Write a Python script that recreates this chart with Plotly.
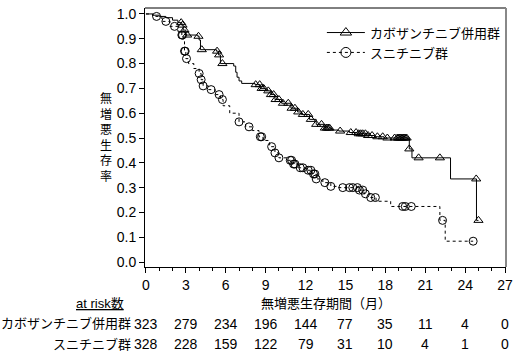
import numpy as np
import plotly.graph_objects as go

# ---- data ----
cabo_name = "カボザンチニブ併用群"
sun_name = "スニチニブ群"

cabo_t = [0, 0.5, 1.0, 1.5, 2.0, 2.4, 2.7, 2.8, 3.0, 3.9, 4.0, 4.1, 5.3, 5.45, 5.6, 6.6, 6.75,
          6.85, 7.0, 7.2, 8.2, 8.6, 9.0, 9.4, 9.7, 10.2, 10.9, 11.4, 11.7, 12.3, 12.8, 13.4,
          14.0, 14.5, 15.3, 15.9, 16.7, 17.2, 17.9, 19.8, 20.0, 22.9, 24.85, 25.0]
cabo_s = [1.0, 0.995, 0.99, 0.985, 0.975, 0.965, 0.955, 0.935, 0.915, 0.91, 0.895, 0.856, 0.85,
          0.835, 0.80, 0.79, 0.765, 0.745, 0.73, 0.72, 0.715, 0.70, 0.69, 0.675, 0.655, 0.64,
          0.62, 0.605, 0.595, 0.575, 0.555, 0.54, 0.532, 0.528, 0.522, 0.517, 0.51, 0.505, 0.50,
          0.456, 0.42, 0.335, 0.168, 0.168]
cabo_cens = [2.65, 2.75, 2.9, 3.1, 3.95, 4.2, 5.35, 5.5, 5.75, 8.25, 8.55, 8.7, 8.85, 9.2, 9.4,
             9.6, 9.75, 10.0, 10.3, 10.7, 10.95, 11.2, 11.45, 11.8, 12.2, 12.4, 12.8, 13.2,
             13.45, 13.6, 13.7, 13.8, 14.6, 15.4, 15.8, 16.0, 16.15, 16.3, 16.5, 16.7, 17.0,
             17.4, 17.8, 18.15, 18.7, 18.9, 19.0, 19.1, 19.2, 19.3, 19.4, 19.5, 19.6, 19.8,
             20.5, 22.1, 24.83, 25.0]

sun_t = [0, 0.5, 1.2, 1.8, 2.4, 2.7, 2.8, 2.9, 3.0, 3.2, 3.6, 4.0, 4.15, 4.3, 4.7, 5.2, 5.6,
         5.8, 6.3, 7.0, 7.5, 8.0, 8.5, 8.8, 9.3, 9.7, 10.0, 10.6, 11.0, 11.5, 12.0, 12.5, 12.8,
         13.3, 13.9, 14.5, 16.0, 16.4, 16.9, 17.3, 18.4, 22.1, 22.5, 24.6]
sun_s = [1.0, 0.99, 0.97, 0.95, 0.93, 0.915, 0.895, 0.85, 0.82, 0.80, 0.78, 0.76, 0.735, 0.71,
         0.695, 0.675, 0.655, 0.63, 0.60, 0.565, 0.545, 0.53, 0.505, 0.49, 0.465, 0.44, 0.42,
         0.41, 0.395, 0.38, 0.37, 0.355, 0.335, 0.32, 0.305, 0.30, 0.29, 0.275, 0.26, 0.245,
         0.224, 0.168, 0.084, 0.084]
sun_cens = [0.8, 1.5, 2.15, 2.7, 2.75, 2.9, 2.95, 3.05, 4.0, 4.15, 4.3, 4.9, 5.5, 5.75, 7.0,
            7.75, 8.6, 8.7, 9.45, 9.7, 10.0, 10.85, 10.95, 11.1, 11.2, 11.6, 11.8, 12.2, 12.4,
            12.6, 12.7, 12.8, 13.45, 13.9, 14.8, 15.3, 15.55, 15.9, 16.05, 16.3, 16.5, 16.9,
            17.25, 19.3, 19.5, 19.95, 22.3, 24.6]

risk_times = [0, 3, 6, 9, 12, 15, 18, 21, 24, 27]
cabo_risk = [323, 279, 234, 196, 144, 77, 35, 11, 4, 0]
sun_risk = [328, 228, 159, 122, 79, 31, 10, 4, 1, 0]

x_ticks = [0, 3, 6, 9, 12, 15, 18, 21, 24, 27]
y_ticks = [round(0.1 * i, 1) for i in range(11)]

x_title = "無増悪生存期間（月）"
y_title = "無増悪生存率"
risk_title = "at risk数"


def step_lookup(ts, ss, q):
    ts = np.asarray(ts)
    idx = np.searchsorted(ts, np.asarray(q), side="right") - 1
    return np.asarray(ss)[idx]


FONT = "Liberation Sans, Arial, Noto Sans CJK JP, sans-serif"
fig = go.Figure()

# step curves
fig.add_trace(go.Scatter(x=cabo_t, y=cabo_s, mode="lines", line=dict(color="black", width=1, shape="hv"),
                         showlegend=False, hoverinfo="skip"))
fig.add_trace(go.Scatter(x=sun_t, y=sun_s, mode="lines", line=dict(color="black", width=1, shape="hv", dash="dot"),
                         showlegend=False, hoverinfo="skip"))
# censor marks
fig.add_trace(go.Scatter(x=cabo_cens, y=step_lookup(cabo_t, cabo_s, cabo_cens), mode="markers",
                         marker=dict(symbol="triangle-up-open", size=8, color="black", line=dict(width=1)),
                         showlegend=False))
fig.add_trace(go.Scatter(x=sun_cens, y=step_lookup(sun_t, sun_s, sun_cens), mode="markers",
                         marker=dict(symbol="circle-open", size=8, color="black", line=dict(width=1)),
                         showlegend=False))
# legend entries
fig.add_trace(go.Scatter(x=[None], y=[None], mode="lines+markers", name=cabo_name,
                         line=dict(color="black", width=1),
                         marker=dict(symbol="triangle-up-open", size=10, color="black", line=dict(width=1))))
fig.add_trace(go.Scatter(x=[None], y=[None], mode="lines+markers", name=sun_name,
                         line=dict(color="black", width=1, dash="dot"),
                         marker=dict(symbol="circle-open", size=10, color="black", line=dict(width=1))))

annotations = []
# y title stacked
annotations.append(dict(text="<br>".join(list(y_title)), xref="paper", yref="paper",
                        x=(106 - 145) / 365, y=(267 - 136) / 261, xanchor="center", yanchor="middle",
                        showarrow=False, font=dict(family=FONT, size=12, color="black")))
# x title
annotations.append(dict(text=x_title, xref="paper", yref="paper", x=0.5, y=(267 - 304) / 261,
                        xanchor="center", yanchor="middle", showarrow=False,
                        font=dict(family=FONT, size=13, color="black")))
# at risk title
annotations.append(dict(text="<u>" + risk_title + "</u>", xref="paper", yref="paper",
                        x=(100 - 145) / 365, y=(267 - 304) / 261, xanchor="center", yanchor="middle",
                        showarrow=False, font=dict(family=FONT, size=13, color="black")))
# row labels and numbers
for lbl, vals, py in [(cabo_name, cabo_risk, 324), (sun_name, sun_risk, 345)]:
    yp = (267 - py) / 261
    annotations.append(dict(text=lbl, xref="paper", yref="paper", x=(133 - 145) / 365, y=yp,
                            xanchor="right", yanchor="middle", showarrow=False,
                            font=dict(family=FONT, size=13, color="black")))
    for t, v in zip(risk_times, vals):
        annotations.append(dict(text=str(v), xref="x", yref="paper", x=t, y=yp,
                                xanchor="center", yanchor="middle", showarrow=False,
                                font=dict(family=FONT, size=14, color="black")))

fig.update_layout(
    width=519, height=359,
    margin=dict(l=145, r=9, t=6, b=92),
    plot_bgcolor="white", paper_bgcolor="white",
    font=dict(family=FONT, size=13, color="black"),
    showlegend=True,
    legend=dict(x=0.49, y=0.963, xanchor="left", yanchor="top", bgcolor="rgba(0,0,0,0)",
                itemwidth=38,
                font=dict(family=FONT, size=13, color="black"), tracegroupgap=0),
    annotations=annotations,
    shapes=[
        dict(type="line", xref="paper", yref="paper", x0=0, x1=1, y0=1, y1=1,
             line=dict(color="black", width=1)),
        dict(type="line", xref="paper", yref="paper", x0=1, x1=1, y0=0, y1=1,
             line=dict(color="#888888", width=2)),
    ],
)
fig.update_xaxes(range=[-0.07, 27.07], tickmode="array", tickvals=x_ticks,
                 ticktext=[str(v) for v in x_ticks],
                 showline=True, linecolor="black", linewidth=1, ticks="outside", ticklen=5,
                 tickcolor="black", showgrid=False, zeroline=False,
                 minor=dict(dtick=1, ticks="outside", ticklen=3, tickcolor="black", showgrid=False),
                 tickfont=dict(family=FONT, size=14, color="black"))
fig.update_yaxes(range=[-0.02, 1.024], tickmode="array", tickvals=y_ticks,
                 ticktext=[f"{v:.1f}" for v in y_ticks],
                 showline=True, linecolor="black", linewidth=1, ticks="outside", ticklen=5,
                 tickcolor="black", showgrid=False, zeroline=False,
                 tickfont=dict(family=FONT, size=14, color="black"))

fig.write_html("out.html", config={"displayModeBar": False},
               post_script="document.body.style.margin='0';document.body.style.overflow='hidden';")
